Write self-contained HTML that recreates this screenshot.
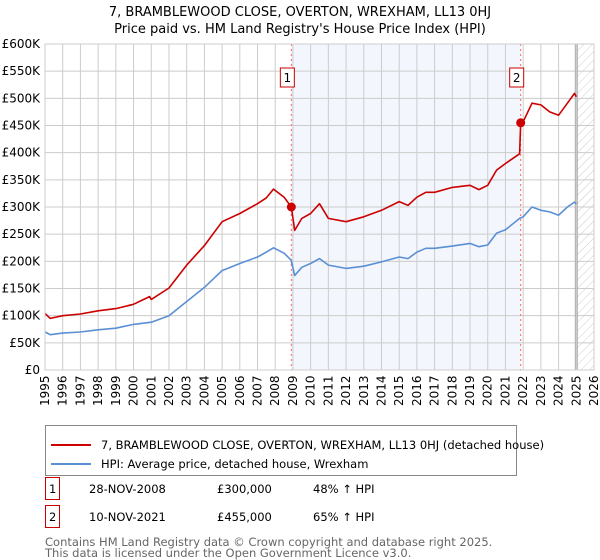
<!DOCTYPE html>
<html><head><meta charset="utf-8">
<style>
body{margin:0;background:#fff;font-family:"Liberation Sans","DejaVu Sans",sans-serif;}
#wrap{position:relative;width:600px;height:560px;overflow:hidden;}
svg text{font-family:"DejaVu Sans","Liberation Sans",sans-serif;}
.tbl{position:absolute;font:12px "DejaVu Sans","Liberation Sans",sans-serif;color:#000;}
</style></head>
<body>
<div id="wrap">
<svg id="c" width="600" height="560"></svg>
</div>
<script>
const years=[1995,1996,1997,1998,1999,2000,2001,2002,2003,2004,2005,2006,2007,2008,2009,2010,2011,2012,2013,2014,2015,2016,2017,2018,2019,2020,2021,2022,2023,2024,2025,2026];
const yTicks=[0,50,100,150,200,250,300,350,400,450,500,550,600];
const hpiT=[1995,1995.3,1996,1997,1998,1999,2000,2001,2002,2003,2004,2005,2006,2007,2007.5,2007.9,2008.5,2008.9,2009.1,2009.5,2010,2010.5,2011,2012,2013,2014,2015,2015.5,2016,2016.5,2017,2018,2019,2019.5,2020,2020.5,2021,2021.8,2022,2022.5,2023,2023.5,2024,2024.5,2024.9,2025.0];
const hpiV=[70,65,68,70,74,77,84,88,100,126,152,183,196,208,217,225,215,202,174,189,196,205,193,187,191,199,208,205,217,224,224,228,233,227,230,252,258,279,282,300,294,291,285,300,309,306];
const redT=[1995,1995.3,1996,1997,1998,1999,2000,2000.9,2001,2002,2003,2004,2005,2006,2007,2007.5,2007.9,2008.5,2008.91,2009.1,2009.5,2010,2010.5,2011,2012,2013,2014,2015,2015.5,2016,2016.5,2017,2018,2019,2019.5,2020,2020.5,2021,2021.8,2021.86,2022,2022.5,2023,2023.5,2024,2024.5,2024.9,2025.0];
const redV=[104,95,100,103,109,113,121,135,130,151,193,229,273,288,306,317,333,318,300,257,279,288,306,279,273,282,294,310,303,318,327,327,336,340,332,340,368,380,398,455,457,491,488,475,469,491,509,503];
const saleT=[2008.91,2021.86];
const saleV=[300,455];
const saleLabels=["1","2"];

const NS="http://www.w3.org/2000/svg";
const svg=document.getElementById('c');
const X0=45,X1=594,Y0=370,Y1=44;
const xs=t=>X0+(t-1995)/(2026-1995)*(X1-X0);
const ys=v=>Y0-v/600*(Y0-Y1);
function el(tag,a,parent){const e=document.createElementNS(NS,tag);for(const k in a)e.setAttribute(k,a[k]);(parent||svg).appendChild(e);return e;}

// defs hatch
const defs=el('defs',{});
const pat=el('pattern',{id:'hatch',width:6,height:6,patternUnits:'userSpaceOnUse',patternTransform:'rotate(45)'},defs);
el('line',{x1:0,y1:0,x2:0,y2:6,stroke:'#ccc','stroke-width':1},pat);

// shaded region between sales
const shade=el('rect',{x:xs(saleT[0]),y:Y1,width:xs(saleT[1])-xs(saleT[0]),height:Y0-Y1,fill:'#eef2fc',opacity:0.7});


const hat=el('rect',{x:xs(2025),y:Y1,width:X1-xs(2025),height:Y0-Y1,fill:'url(#hatch)'});



// grid
years.forEach(y=>{const l=el('line',{x1:xs(y),x2:xs(y),y1:Y1,y2:Y0,stroke:'#cccccc','stroke-width':1});


const t=el('text',{x:0,y:0,transform:`translate(${xs(y)+4},${Y0+36}) rotate(-90)`,'font-size':12,fill:'#000'});
t.textContent=y;

});
yTicks.forEach(v=>{const l=el('line',{x1:X0,x2:X1,y1:ys(v),y2:ys(v),stroke:'#cccccc','stroke-width':1});


const t=el('text',{x:X0-5,y:ys(v)+4,'text-anchor':'end','font-size':12,fill:'#000'});
t.textContent=v===0?'£0':'£'+v+'K';

});
el('line',{x1:xs(2025)-1,x2:xs(2025)-1,y1:Y1,y2:Y0,stroke:'#aaa','stroke-width':1});
el('line',{x1:xs(2025)+1,x2:xs(2025)+1,y1:Y1,y2:Y0,stroke:'#aaa','stroke-width':1});

// sale vlines
saleT.forEach((t,i)=>{const l=el('line',{x1:xs(t),x2:xs(t),y1:Y1,y2:Y0,stroke:'#ff6666','stroke-width':1,'stroke-dasharray':'2,3'});


const g=el('g',{});


el('rect',{x:xs(t)-11,y:68,width:14,height:19,fill:'#fff',stroke:'#cc0000','stroke-width':1},g);
const tx=el('text',{x:xs(t)-4,y:82,'text-anchor':'middle','font-size':12,fill:'#000'},g);tx.textContent=saleLabels[i];});

function path(T,V,color,name){const d=T.map((t,i)=>(i?'L':'M')+xs(t).toFixed(1)+','+ys(V[i]).toFixed(1)).join('');
const p=el('path',{d:d,fill:'none',stroke:color,'stroke-width':1.6,'stroke-linejoin':'round'});

}
path(hpiT,hpiV,'#5b8fd4','hpi-line');
path(redT,redV,'#cc0000','price-paid-line');
saleT.forEach((t,i)=>{const c=el('circle',{cx:xs(t),cy:ys(saleV[i]),r:4.5,fill:'#cc0000'});

});
// plot border
el('rect',{x:X0,y:Y1,width:X1-X0,height:Y0-Y1,fill:'none',stroke:'#cccccc','stroke-width':1});

// title
[['7, BRAMBLEWOOD CLOSE, OVERTON, WREXHAM, LL13 0HJ',14],["Price paid vs. HM Land Registry's House Price Index (HPI)",31]].forEach((a,i)=>{
const t=el('text',{x:300,y:a[1]+2,'text-anchor':'middle','font-size':13,fill:'#000'});t.textContent=a[0];

});

// legend
const lg=el('g',{});


el('rect',{x:45.5,y:425.5,width:471,height:50,fill:'#fff',stroke:'#888','stroke-width':1},lg);
el('line',{x1:51,x2:91,y1:445,y2:445,stroke:'#cc0000','stroke-width':2},lg);
el('line',{x1:51,x2:91,y1:464,y2:464,stroke:'#5b8fd4','stroke-width':2},lg);
let t1=el('text',{x:101,y:449,'font-size':11.5,fill:'#000'},lg);t1.textContent='7, BRAMBLEWOOD CLOSE, OVERTON, WREXHAM, LL13 0HJ (detached house)';


let t2=el('text',{x:101,y:468,'font-size':11.5,fill:'#000'},lg);t2.textContent='HPI: Average price, detached house, Wrexham';



// table
const rows=[['1','28-NOV-2008','£300,000','48% ↑ HPI',487],['2','10-NOV-2021','£455,000','65% ↑ HPI',515]];
rows.forEach(r=>{const g=el('g',{});


el('rect',{x:45.5,y:r[4]-9.5,width:14,height:22,fill:'#fff',stroke:'#cc0000','stroke-width':1},g);
[[r[0],49],[r[1],89],[r[2],217],[r[3],313]].forEach(c=>{const t=el('text',{x:c[1],y:r[4]+6,'font-size':11.5,fill:'#000'},g);t.textContent=c[0];});});
const f1=el('text',{x:45,y:546,'font-size':11.5,fill:'#666'});f1.textContent='Contains HM Land Registry data © Crown copyright and database right 2025.';


const f2=el('text',{x:45,y:557,'font-size':11.5,fill:'#666'});f2.textContent='This data is licensed under the Open Government Licence v3.0.';


</script>
</body></html>
